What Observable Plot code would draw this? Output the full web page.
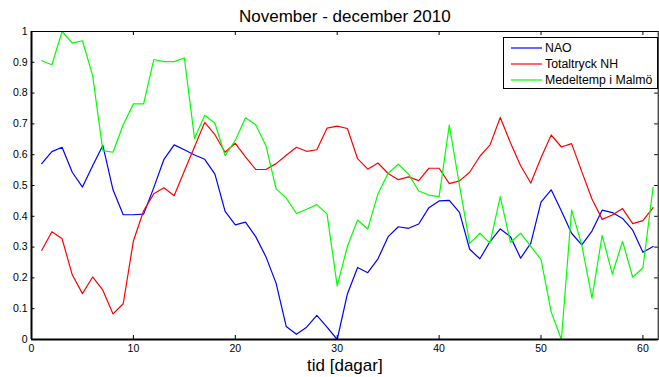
<!DOCTYPE html>
<html>
<head>
<meta charset="utf-8">
<script src="https://cdn.jsdelivr.net/npm/d3@7"></script>
<script src="https://cdn.jsdelivr.net/npm/@observablehq/plot@0.6"></script>
<style>
  html, body { margin: 0; padding: 0; background: #fff; }
  #chart { position: relative; width: 659px; height: 377px; font-family: "Liberation Sans", Arial, sans-serif; }
  #chart > svg { position: absolute; left: 0; top: 0; }
  .legend { position: absolute; left: 503px; top: 37px; width: 146px; background: #fff;
            border: 1px solid #000; padding: 1.5px 0 0 6.5px; }
  .legend .row { display: flex; align-items: center; height: 16px; font-size: 12.3px; color: #000; white-space: nowrap; }
  .legend .swatch { display: block; width: 31px; height: 4px; margin-right: 3.5px; flex: none; }
</style>
</head>
<body>
<div id="chart"></div>
<script>
// Normalised daily series, November - December 2010 (day 1..61)
const nao = [
  0.571, 0.610, 0.624, 0.543, 0.495, 0.564, 0.630, 0.486, 0.405, 0.405,
  0.407, 0.493, 0.585, 0.632, 0.616, 0.599, 0.585, 0.537, 0.416, 0.372,
  0.381, 0.334, 0.269, 0.183, 0.042, 0.017, 0.040, 0.078, 0.040, 0.000,
  0.148, 0.234, 0.217, 0.262, 0.334, 0.366, 0.361, 0.375, 0.428, 0.450,
  0.452, 0.413, 0.293, 0.262, 0.318, 0.359, 0.334, 0.264, 0.313, 0.446,
  0.486, 0.417, 0.345, 0.307, 0.352, 0.420, 0.412, 0.393, 0.355, 0.283,
  0.302
];
const totaltryck = [
  0.289, 0.350, 0.327, 0.210, 0.149, 0.203, 0.160, 0.083, 0.116, 0.320,
  0.418, 0.473, 0.493, 0.467, 0.547, 0.626, 0.705, 0.665, 0.608, 0.637,
  0.593, 0.552, 0.552, 0.571, 0.598, 0.624, 0.611, 0.616, 0.686, 0.693,
  0.685, 0.587, 0.553, 0.573, 0.539, 0.519, 0.528, 0.516, 0.556, 0.556,
  0.506, 0.515, 0.543, 0.595, 0.632, 0.721, 0.639, 0.564, 0.508, 0.590,
  0.664, 0.625, 0.636, 0.545, 0.456, 0.390, 0.404, 0.425, 0.376, 0.386,
  0.428
];
const medeltemp = [
  0.905, 0.892, 1.000, 0.962, 0.970, 0.857, 0.613, 0.608, 0.697, 0.765,
  0.765, 0.909, 0.902, 0.902, 0.914, 0.653, 0.728, 0.702, 0.597, 0.647,
  0.720, 0.697, 0.630, 0.489, 0.459, 0.409, 0.423, 0.438, 0.408, 0.174,
  0.302, 0.388, 0.359, 0.473, 0.540, 0.569, 0.537, 0.482, 0.469, 0.464,
  0.696, 0.500, 0.312, 0.345, 0.313, 0.464, 0.315, 0.345, 0.302, 0.260,
  0.089, 0.000, 0.421, 0.307, 0.134, 0.338, 0.212, 0.319, 0.202, 0.233,
  0.494
];

const seriesNames = ["NAO", "Totaltryck NH", "Medeltemp i Malmö"];
const seriesColors = ["#0000ff", "#ff0000", "#00ff00"];
const xTicks = [0, 10, 20, 30, 40, 50, 60];
const yTicks = [0, 0.1, 0.2, 0.3, 0.4, 0.5, 0.6, 0.7, 0.8, 0.9, 1];
const titleText = "November - december 2010";
const xLabel = "tid [dagar]";

const seriesValues = [nao, totaltryck, medeltemp];
const rows = seriesValues.flatMap((vals, s) =>
  vals.map((v, i) => ({ day: i + 1, value: v, series: seriesNames[s] }))
);

const xMax = 61.5;
const tickX = 0.34;   // inward tick length along x (data units)
const tickY = 0.013;  // inward tick length along y (data units)

const chart = Plot.plot({
  width: 659,
  height: 377,
  marginTop: 31,
  marginLeft: 31,
  marginRight: 1.3,
  marginBottom: 38,
  style: { fontFamily: "'Liberation Sans', Arial, sans-serif", background: "white", color: "black" },
  x: { domain: [0, xMax], axis: null },
  y: { domain: [0, 1], axis: null },
  color: { domain: seriesNames, range: seriesColors },
  marks: [
    Plot.line(rows, { x: "day", y: "value", z: "series", stroke: "series", strokeWidth: 1.2 }),
    // box and inward tick marks on all four sides
    Plot.frame({ stroke: "black", strokeWidth: 1 }),
    Plot.ruleX([0], { stroke: "black", strokeWidth: 2 }),
    Plot.ruleY([0], { stroke: "black", strokeWidth: 2 }),
    Plot.ruleY(yTicks, { x1: 0, x2: tickX, stroke: "black" }),
    Plot.ruleY(yTicks, { x1: xMax - tickX, x2: xMax, stroke: "black" }),
    Plot.ruleX(xTicks, { y1: 0, y2: tickY, stroke: "black" }),
    Plot.ruleX(xTicks, { y1: 1 - tickY, y2: 1, stroke: "black" }),
    Plot.axisY(yTicks, { tickSize: 0, tickPadding: 4, fontSize: 10.5, label: null, tickFormat: d3.format("~g") }),
    Plot.axisX(xTicks, { tickSize: 0, tickPadding: 5, fontSize: 10.5, label: null }),
    Plot.text([titleText], { frameAnchor: "top", lineAnchor: "middle", dy: -14.7, fontSize: 17, fill: "black" }),
    Plot.text([xLabel], { frameAnchor: "bottom", lineAnchor: "middle", dy: 25.6, fontSize: 17, fill: "black" })
  ]
});

const root = document.getElementById("chart");
root.appendChild(chart);

// legend box in the upper right corner
const svgNS = "http://www.w3.org/2000/svg";
const legend = document.createElement("div");
legend.className = "legend";
seriesNames.forEach((name, i) => {
  const row = document.createElement("div");
  row.className = "row";
  const sw = document.createElementNS(svgNS, "svg");
  sw.setAttribute("class", "swatch");
  sw.setAttribute("width", "31");
  sw.setAttribute("height", "4");
  const ln = document.createElementNS(svgNS, "line");
  ln.setAttribute("x1", "0");
  ln.setAttribute("x2", "31");
  ln.setAttribute("y1", "2");
  ln.setAttribute("y2", "2");
  ln.setAttribute("stroke", seriesColors[i]);
  ln.setAttribute("stroke-width", "1.2");
  sw.appendChild(ln);
  const label = document.createElement("span");
  label.textContent = name;
  row.appendChild(sw);
  row.appendChild(label);
  legend.appendChild(row);
});
root.appendChild(legend);
</script>
</body>
</html>
